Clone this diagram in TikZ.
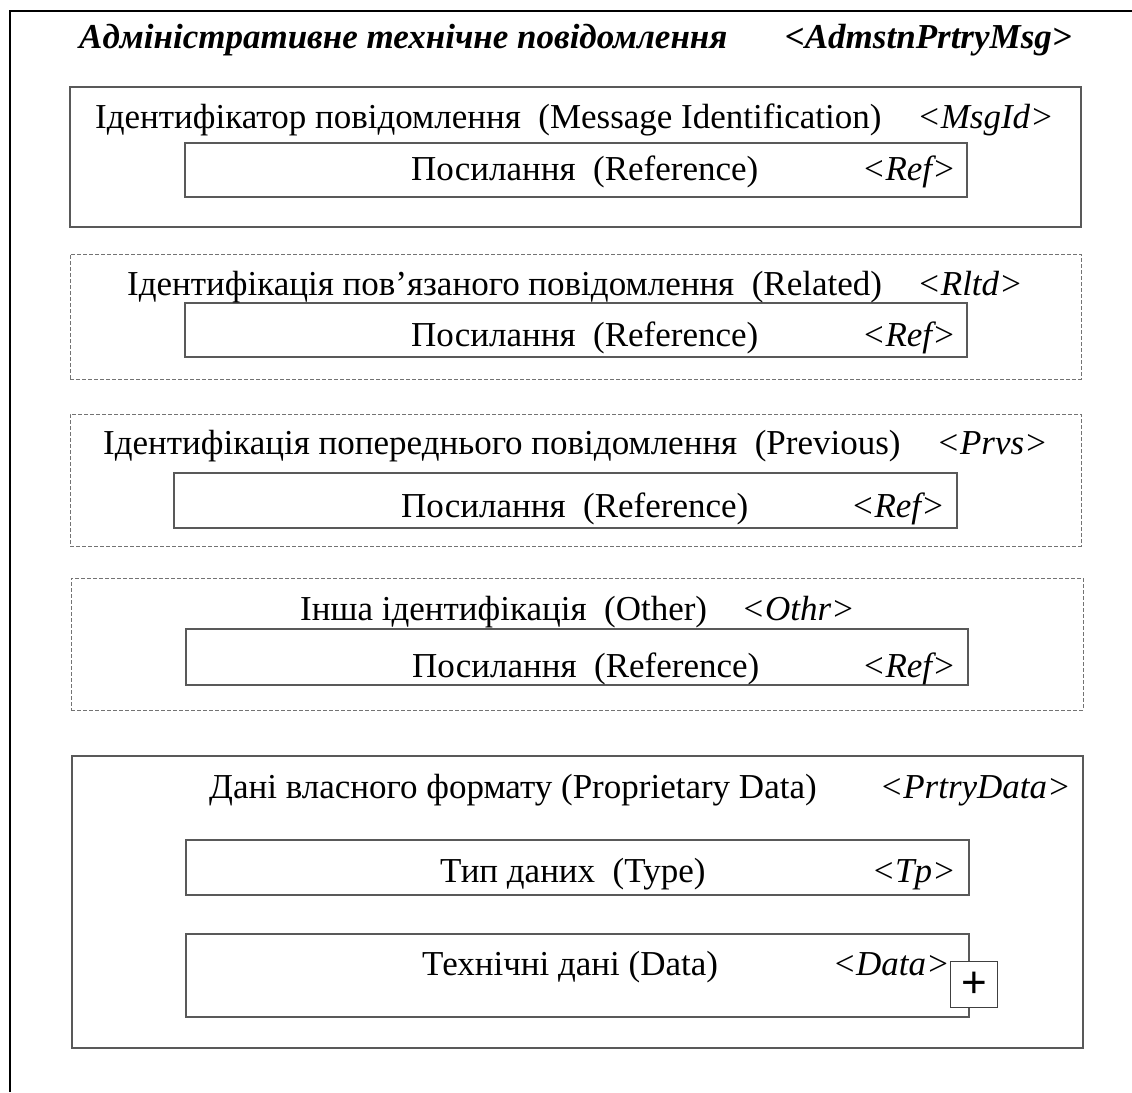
\documentclass[tikz,border=0pt]{standalone}
\usepackage{fontspec}
\setmainfont{Liberation Serif}
\setsansfont{Liberation Sans}
\usetikzlibrary{positioning}
\usetikzlibrary{calc}

\begin{document}
\begin{tikzpicture}[x=1pt,y=-1pt,
  blk/.style={rectangle, inner sep=0pt, outer sep=0pt, draw=black!65, line width=1.3pt},
  opt/.style={rectangle, inner sep=0pt, outer sep=0pt, draw=black!55, line width=0.9pt,
    dash pattern=on 4pt off 2pt},
  fld/.style={rectangle, inner sep=0pt, outer sep=0pt, draw=black!65, line width=1.3pt,
    minimum width=782pt},
  lbl/.style={inner sep=0pt, anchor=base west, font=\fontsize{35}{40}\selectfont},
  tag/.style={inner sep=0pt, anchor=base east, font=\fontsize{35}{40}\selectfont\itshape}]

  \useasboundingbox (0,0) rectangle (1132,1092);

  \coordinate (frameTL) at (10,11);
  \coordinate (frameBL) at (10,1092);
  \coordinate (frameTR) at (1132,11);
  \draw[line width=1.5pt] (frameBL) -- (frameTL) -- (frameTR);

  \node[lbl, font=\fontsize{35}{40}\selectfont\bfseries\itshape] (title) at (79,48)
  {Адміністративне технічне повідомлення};
  \node[tag, font=\fontsize{35}{40}\selectfont\bfseries\itshape] (titleTag) at (1072,48)
  {<AdmstnPrtryMsg>};

  \node[blk, anchor=north west, minimum width=1011pt, minimum height=140pt] at (70,87) (MsgId) {};
  \node[fld, minimum height=54pt] (Ref1)
  [below right=56pt and 115pt of MsgId.north west] {};

  \node[opt, anchor=north west, minimum width=1011pt, minimum height=125pt] at (70,254) (Rltd) {};
  \node[fld, minimum height=54pt] (Ref2)
  [below right=49pt and 115pt of Rltd.north west] {};

  \node[opt, anchor=north west, minimum width=1011pt, minimum height=132pt] at (70,414) (Prvs) {};
  \node[fld, minimum height=55pt, minimum width=783pt] (Ref3)
  [below right=59pt and 104pt of Prvs.north west] {};

  \node[opt, anchor=north west, minimum width=1012pt, minimum height=132pt] at (71,578) (Othr) {};
  \node[fld, minimum height=56pt] (Ref4)
  [below right=51pt and 115pt of Othr.north west] {};

  \node[blk, anchor=north west, minimum width=1011pt, minimum height=292pt] at (72,756) (PrtryData) {};
  \node[fld, minimum height=55pt, minimum width=783pt] (Tp)
  [below right=84pt and 114pt of PrtryData.north west] {};
  \node[fld, minimum height=83pt, minimum width=783pt] (Data)
  [below right=178pt and 114pt of PrtryData.north west] {};

  \node[lbl] (nMsgId) at (95,128) {Ідентифікатор повідомлення\ \ (Message Identification)};
  \node[tag] (tMsgId) at (1054,128) {<MsgId>};
  \node[lbl] (nRef1) at (411,180) {Посилання\ \ (Reference)};
  \node[tag] (tRef1) at (956,180) {<Ref>};

  \node[lbl] (nRltd) at (127,295) {Ідентифікація пов’язаного повідомлення\ \ (Related)};
  \node[tag] (tRltd) at (1023,295) {<Rltd>};
  \node[lbl] (nRef2) at (411,346) {Посилання\ \ (Reference)};
  \node[tag] (tRef2) at (956,346) {<Ref>};

  \node[lbl] (nPrvs) at (103,454) {Ідентифікація попереднього повідомлення\ \ (Previous)};
  \node[tag] (tPrvs) at (1048,454) {<Prvs>};
  \node[lbl] (nRef3) at (401,517) {Посилання\ \ (Reference)};
  \node[tag] (tRef3) at (945,517) {<Ref>};

  \node[lbl] (nOthr) at (300,620) {Інша ідентифікація\ \ (Other)};
  \node[tag] (tOthr) at (855,620) {<Othr>};
  \node[lbl] (nRef4) at (412,677) {Посилання\ \ (Reference)};
  \node[tag] (tRef4) at (956,677) {<Ref>};

  \node[lbl] (nPrtryData) at (209,798) {Дані власного формату (Proprietary Data)};
  \node[tag] (tPrtryData) at (1071,798) {<PrtryData>};
  \node[lbl] (nTp) at (440,882) {Тип даних\ \ (Type)};
  \node[tag] (tTp) at (956,882) {<Tp>};
  \node[lbl] (nData) at (422,975) {Технічні дані (Data)};
  \node[tag] (tData) at (950,975) {<Data>};

  \node[draw=black!75, line width=1.2pt, fill=white, inner sep=0pt,
    minimum width=47pt, minimum height=46pt, anchor=south west,
    font=\sffamily\fontsize{44}{44}\selectfont]
  at ($(Data.south east)+(-19,-9)$) (more) {+};

\end{tikzpicture}
\end{document}
